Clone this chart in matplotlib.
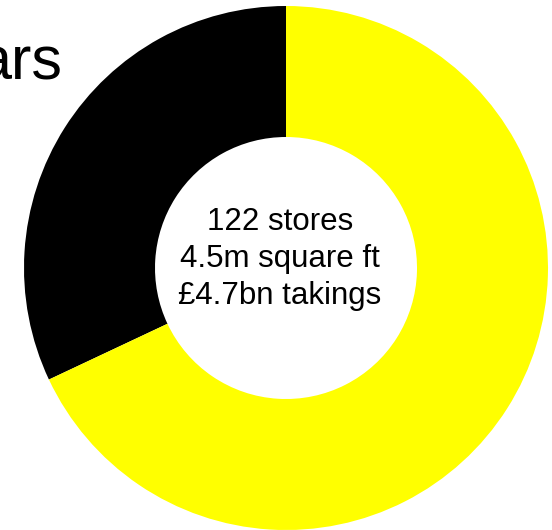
import matplotlib.pyplot as plt

# store split shown as a ring
segments = ["other", "main"]
shares = [32, 68]
colours = ["#000000", "#ffff00"]
centre_lines = ["122 stores", "4.5m square ft", "£4.7bn takings"]
heading = "ars"

plt.rcParams["font.family"] = ["Liberation Sans", "DejaVu Sans"]

fig = plt.figure(figsize=(5.52, 5.30), dpi=100)
ax = fig.add_axes([0, 0, 1, 1])

ax.pie(shares, colors=colours, startangle=90, counterclock=True,
       radius=262, wedgeprops=dict(width=131, linewidth=0))

# axes in pixel units with the ring centre at (286, 268) from top-left
ax.set_xlim(-286, 552 - 286)
ax.set_ylim(-(530 - 268), 268)
ax.set_aspect("equal")
ax.axis("off")

for i, line in enumerate(centre_lines):
    ax.text(-6, 46 - i * 37, line, ha="center", va="center", fontsize=22.5)

fig.text(62 / 552, 1 - 79 / 530, heading, ha="right", va="baseline",
         fontsize=44, family=["Liberation Sans Narrow", "Liberation Sans"])

fig.savefig("out.png", dpi=100)
